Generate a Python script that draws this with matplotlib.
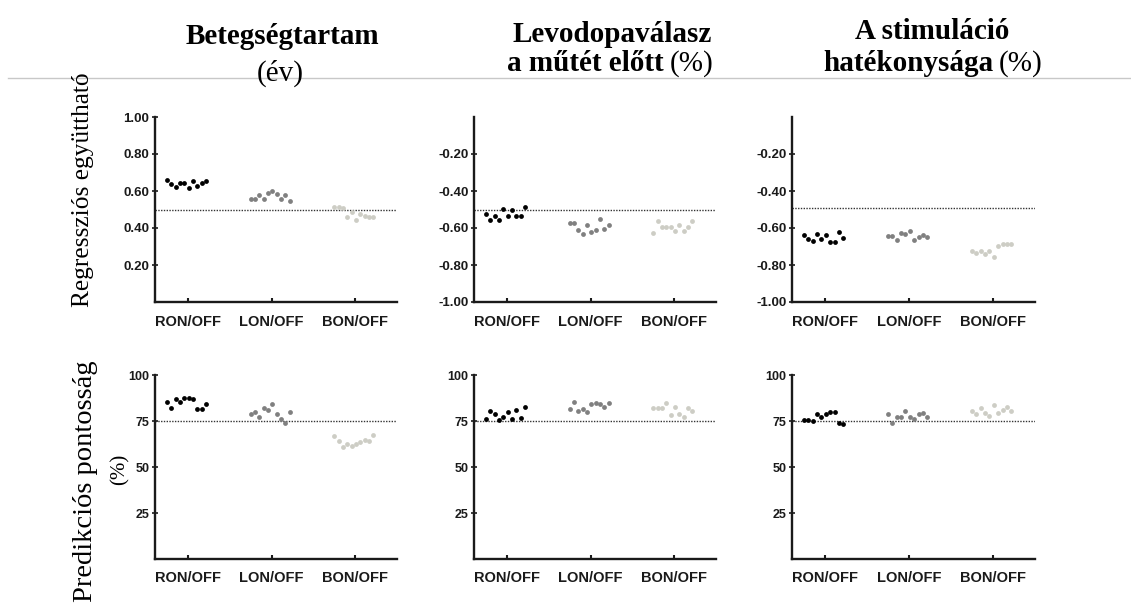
import numpy as np
import matplotlib
matplotlib.use('Agg')
import matplotlib.pyplot as plt
from matplotlib.lines import Line2D

# group labels on the x axis
groups = ['RON/OFF', 'LON/OFF', 'BON/OFF']

# regression coefficients (top row), one list per group
coef_duration = [
    [0.657, 0.636, 0.623, 0.641, 0.645, 0.616, 0.652, 0.627, 0.641, 0.654],
    [0.559, 0.559, 0.577, 0.559, 0.591, 0.602, 0.586, 0.559, 0.577, 0.545],
    [0.514, 0.513, 0.509, 0.462, 0.487, 0.443, 0.477, 0.466, 0.457, 0.457],
]
coef_levodopa = [
    [-0.523, -0.557, -0.533, -0.559, -0.499, -0.537, -0.505, -0.537, -0.537, -0.486],
    [-0.573, -0.571, -0.613, -0.631, -0.582, -0.623, -0.613, -0.550, -0.605, -0.586],
    [-0.627, -0.562, -0.593, -0.593, -0.593, -0.614, -0.584, -0.614, -0.595, -0.564],
]
coef_stim = [
    [-0.640, -0.661, -0.672, -0.632, -0.661, -0.638, -0.676, -0.676, -0.622, -0.654],
    [-0.645, -0.645, -0.663, -0.627, -0.631, -0.618, -0.667, -0.649, -0.638, -0.649],
    [-0.724, -0.735, -0.724, -0.739, -0.723, -0.759, -0.699, -0.688, -0.688, -0.686],
]

# prediction accuracy in % (bottom row)
acc_duration = [
    [85.1, 82.2, 86.8, 85.5, 87.5, 87.5, 87.0, 81.5, 81.7, 84.2],
    [78.6, 80.1, 77.4, 82.2, 80.8, 84.1, 78.6, 76.1, 73.7, 79.7],
    [66.7, 64.0, 60.7, 62.7, 61.2, 62.3, 63.8, 64.7, 64.0, 67.2],
]
acc_levodopa = [
    [75.9, 80.6, 78.6, 75.5, 77.2, 79.7, 75.9, 81.0, 76.4, 82.6],
    [81.5, 85.5, 80.6, 81.5, 79.9, 84.1, 85.0, 84.1, 82.6, 84.6],
    [82.1, 82.1, 82.1, 85.0, 78.3, 82.6, 78.6, 77.2, 81.9, 80.3],
]
acc_stim = [
    [75.4, 75.7, 75.0, 78.6, 77.2, 78.6, 79.7, 80.1, 74.1, 73.4],
    [78.8, 74.1, 77.4, 77.4, 80.3, 77.4, 76.1, 78.8, 79.3, 77.4],
    [80.3, 78.6, 81.9, 79.5, 77.7, 83.5, 79.3, 81.0, 82.8, 80.3],
]

# reference (chance) levels for each panel
coef_ref = [0.50, -0.50, -0.49]
acc_ref = [75, 75, 75]

group_colors = ['#000000', '#808080', '#cdcdc5']

W, H = 1131, 612
fig = plt.figure(figsize=(W / 100, H / 100), dpi=100)

serif = 'Liberation Serif'
sans = 'Liberation Sans'

# axes boxes in pixels: left, top, width, height
col_left = [155, 474, 792]
col_width = [242, 242, 243]
row_top = [117, 375]
row_height = [185, 184]


def px_axes(left, top, width, height):
    return fig.add_axes([left / W, 1 - (top + height) / H, width / W, height / H])


def strip_panel(ax, data, ref, ylim, yticks, ytick_labels):
    offsets = np.linspace(-0.25, 0.218, len(data[0]))
    for i, vals in enumerate(data):
        ax.scatter(i + 1 + offsets, vals, s=12, color=group_colors[i],
                   linewidths=0, zorder=3)
    ax.axhline(ref, color='#333333', lw=1.0, ls=(0, (1, 1)), zorder=2)
    ax.set_xlim(0.607, 3.5)
    ax.set_ylim(*ylim)
    ax.set_xticks([1, 2, 3])
    ax.set_xticklabels(groups, fontfamily=sans, fontweight='bold',
                       fontsize=10.5, color='#1a1a1a')
    ax.set_yticks(yticks)
    ax.set_yticklabels(ytick_labels, fontfamily=sans, fontweight='bold',
                       fontsize=9.5, color='#1a1a1a')
    for side in ['top', 'right']:
        ax.spines[side].set_visible(False)
    for side in ['left', 'bottom']:
        ax.spines[side].set_linewidth(1.7)
        ax.spines[side].set_color('#1a1a1a')
    ax.tick_params(axis='x', direction='in', length=3, width=1.5, pad=9,
                   color='#1a1a1a')
    ax.tick_params(axis='y', direction='inout', length=4, width=1.2, pad=2,
                   color='#1a1a1a')


coef_sets = [coef_duration, coef_levodopa, coef_stim]
acc_sets = [acc_duration, acc_levodopa, acc_stim]

for c in range(3):
    ax = px_axes(col_left[c], row_top[0], col_width[c], row_height[0])
    if c == 0:
        ticks = [0.2, 0.4, 0.6, 0.8, 1.0]
        strip_panel(ax, coef_sets[c], coef_ref[c], (0, 1), ticks,
                    ['%.2f' % t for t in ticks])
    else:
        ticks = [-1.0, -0.8, -0.6, -0.4, -0.2]
        strip_panel(ax, coef_sets[c], coef_ref[c], (-1, 0), ticks,
                    ['%.2f' % t for t in ticks])

    ax = px_axes(col_left[c], row_top[1], col_width[c], row_height[1])
    ticks = [25, 50, 75, 100]
    strip_panel(ax, acc_sets[c], acc_ref[c], (0, 100), ticks,
                [str(t) for t in ticks])
    for lab in ax.get_yticklabels():
        lab.set_fontsize(9)

# thin separator line under the column titles
fig.add_artist(Line2D([8 / W, 1.0], [1 - 78 / H, 1 - 78 / H],
                      color='#c8c8c8', lw=1.0))

renderer = fig.canvas.get_renderer()


def title_line(xc, base, bold, plain=None, size=21):
    # one title line, bold part followed by an optional regular part
    y = 1 - base / H
    t1 = fig.text(0, y, bold, fontfamily=serif, fontweight='bold',
                  fontsize=size, va='baseline', ha='left')
    w1 = t1.get_window_extent(renderer).width
    if plain is None:
        t1.set_x((xc - w1 / 2) / W)
        return
    gap = 6
    t2 = fig.text(0, y, plain, fontfamily=serif, fontsize=size,
                  va='baseline', ha='left')
    w2 = t2.get_window_extent(renderer).width
    x0 = xc - (w1 + gap + w2) / 2
    t1.set_x(x0 / W)
    t2.set_x((x0 + w1 + gap) / W)


title_line(282, 44, 'Betegségtartam')
fig.text(280 / W, 1 - 81 / H, '(év)', fontfamily=serif, fontsize=21,
         ha='center', va='baseline')
title_line(612, 42, 'Levodopaválasz')
title_line(610, 71, 'a műtét előtt', '(%)')
title_line(932, 39, 'A stimuláció')
title_line(933, 71, 'hatékonysága', '(%)')

# row labels
fig.text(83 / W, 1 - 190 / H, 'Regressziós együttható', fontfamily=serif,
         fontsize=18.3, rotation=90, ha='center', va='center')
fig.text(85 / W, 1 - 481 / H, 'Predikciós pontosság', fontfamily=serif,
         fontsize=20.5, rotation=90, ha='center', va='center')
fig.text(120 / W, 1 - 469 / H, '(%)', fontfamily=serif,
         fontsize=15, rotation=90, ha='center', va='center')

fig.savefig('out.png', dpi=100)
